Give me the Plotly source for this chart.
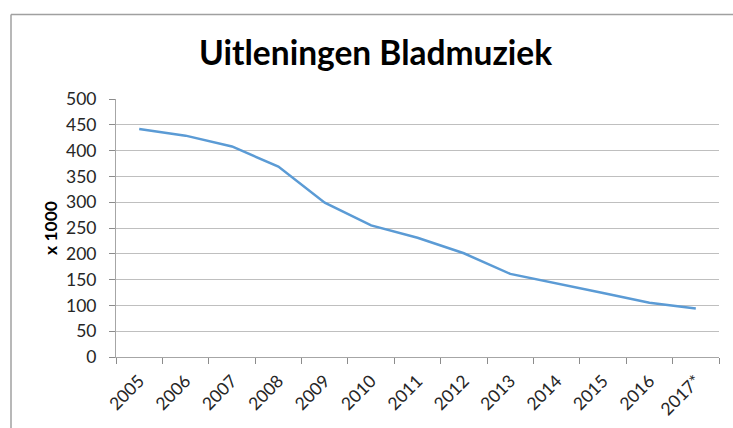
import plotly.graph_objects as go

years = ["2005", "2006", "2007", "2008", "2009", "2010", "2011",
         "2012", "2013", "2014", "2015", "2016", "2017*"]
loans = [442, 429, 408, 369, 299, 255, 231, 201, 161, 143, 124, 105, 94]
y_ticks = [0, 50, 100, 150, 200, 250, 300, 350, 400, 450, 500]

W, H = 733, 428
L, R, T, B = 116, 14, 99, 71
pw, ph = W - L - R, H - T - B

def px_x(x):
    return (x - L) / pw

def px_y(y):
    return (H - B - y) / ph

fig = go.Figure()
fig.add_trace(go.Scatter(
    x=years, y=loans, mode="lines",
    line=dict(color="#5B9BD5", width=2.5),
    showlegend=False, hoverinfo="skip",
))

font = "Lato, 'Liberation Sans', Arial, sans-serif"
fig.update_layout(
    width=W, height=H,
    margin=dict(l=L, r=R, t=T, b=B, pad=0, autoexpand=False),
    paper_bgcolor="white", plot_bgcolor="white",
    font=dict(family=font, color="#262626", size=17),
    xaxis=dict(
        type="category", tickangle=-45, tickson="boundaries",
        showgrid=False, showline=True, linecolor="#A6A6A6", linewidth=1,
        ticks="outside", ticklen=6, tickcolor="#8C8C8C",
        tickfont=dict(size=17.5, color="#262626", family=font),
        ticklabelstandoff=6, automargin=False,
        range=[-0.5, len(years) - 0.5], zeroline=False,
    ),
    yaxis=dict(
        range=[0, 500], tickvals=y_ticks, ticktext=[str(v) for v in y_ticks],
        showgrid=True, gridcolor="#BFBFBF", gridwidth=1,
        showline=True, linecolor="#A6A6A6", linewidth=1,
        ticks="outside", ticklen=6, tickcolor="#8C8C8C",
        tickfont=dict(size=17.5, color="#262626", family=font),
        ticklabelstandoff=9, automargin=False,
        zeroline=False,
    ),
    annotations=[
        dict(text="<b>Uitleningen Bladmuziek</b>", xref="paper", yref="paper",
             x=px_x(375), y=px_y(52), xanchor="center", yanchor="middle",
             showarrow=False, font=dict(size=33.5, color="black", family=font)),
        dict(text="<b>x 1000</b>", xref="paper", yref="paper",
             x=px_x(50), y=px_y(228), xanchor="center", yanchor="middle",
             textangle=-90, showarrow=False,
             font=dict(size=17.5, color="black", family=font)),
    ],
    shapes=[
        dict(type="line", xref="paper", yref="paper",
             x0=px_x(11), x1=px_x(740), y0=px_y(14.5), y1=px_y(14.5),
             line=dict(color="#A0A0A0", width=1.5)),
        dict(type="line", xref="paper", yref="paper",
             x0=px_x(11), x1=px_x(11), y0=px_y(14.5), y1=px_y(440),
             line=dict(color="#A0A0A0", width=1.5)),
    ],
)

fig.write_html(
    "out.html",
    config={"displayModeBar": False, "staticPlot": True},
    post_script="document.body.style.margin='0';document.body.style.overflow='hidden';",
)
